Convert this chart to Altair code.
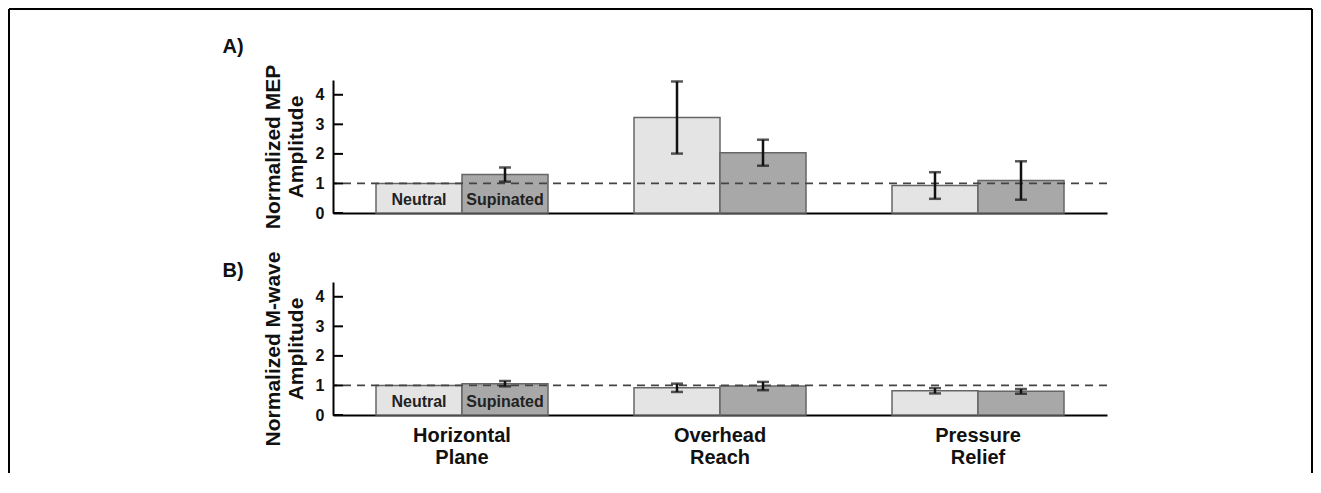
import altair as alt
import pandas as pd

categories = ["Horizontal Plane", "Overhead Reach", "Pressure Relief"]
conditions = ["Neutral", "Supinated"]

mep_neutral = [1.00, 3.23, 0.93]
mep_neutral_err = [0.00, 1.22, 0.45]
mep_supinated = [1.30, 2.04, 1.10]
mep_supinated_err = [0.24, 0.44, 0.65]

mwave_neutral = [1.00, 0.92, 0.82]
mwave_neutral_err = [0.00, 0.14, 0.09]
mwave_supinated = [1.06, 0.98, 0.80]
mwave_supinated_err = [0.09, 0.14, 0.08]

y_ticks = [0, 1, 2, 3, 4]
reference_level = [1.0]

FONT = "Liberation Sans"
W, H = 774, 133


def table(neutral, nerr, sup, serr):
    rows = []
    for i, c in enumerate(categories):
        rows.append({"category": c, "condition": "Neutral", "mean": neutral[i], "err": nerr[i]})
        rows.append({"category": c, "condition": "Supinated", "mean": sup[i], "err": serr[i]})
    return pd.DataFrame(rows)


def panel(df, ytitle, letter, letter_y, bottom, frame):
    xscale = alt.Scale(domain=categories, paddingInner=1 / 3, paddingOuter=1 / 6)
    xaxis = alt.Axis(
        labels=bottom, ticks=False, domain=True, domainColor="black", domainWidth=2,
        title=None, labelFont=FONT, labelFontSize=20, labelFontWeight="bold",
        labelColor="#111", labelPadding=10, labelLineHeight=22,
        labelExpr="split(datum.label, ' ')", labelAngle=0,
    )
    yscale = alt.Scale(domain=[0, 4.5], nice=False, zero=True)
    yaxis = alt.Axis(
        values=y_ticks, ticks=False, grid=False, domainColor="black", domainWidth=2,
        labelFont=FONT, labelFontSize=16, labelFontWeight="bold", labelColor="#111",
        labelPadding=9, title=ytitle, titleFont=FONT, titleFontSize=21,
        titleFontWeight="bold", titleColor="#111", titleLineHeight=23, titlePadding=9,
    )
    xo = alt.XOffset("condition:N", scale=alt.Scale(domain=conditions, paddingInner=0, paddingOuter=0))
    X = alt.X("category:N", scale=xscale, axis=xaxis, sort=categories)

    def Y(field):
        return alt.Y(field, scale=yscale, axis=yaxis)

    base = alt.Chart(df)
    bars = base.mark_bar(stroke="#666", strokeWidth=1.5).encode(
        x=X, xOffset=xo, y=Y("mean:Q"),
        color=alt.Color("condition:N", scale=alt.Scale(domain=conditions, range=["#e4e4e4", "#a8a8a8"]), legend=None),
    )
    dashed = alt.Chart(pd.DataFrame({"ref": reference_level})).mark_rule(
        strokeDash=[8, 6], color="#444", strokeWidth=1.8
    ).encode(y=Y("ref:Q"))

    eb = base.transform_filter("datum.err > 0").transform_calculate(
        lo="datum.mean - datum.err", hi="datum.mean + datum.err"
    )
    stems = eb.mark_rule(color="#111", strokeWidth=2.5).encode(
        x=X, xOffset=xo, y=Y("lo:Q"), y2="hi:Q"
    )
    cap_hi = eb.mark_tick(color="#111", size=12, thickness=2.5).encode(
        x=X, xOffset=xo, y=Y("hi:Q")
    )
    cap_lo = eb.mark_tick(color="#111", size=12, thickness=2.5).encode(
        x=X, xOffset=xo, y=Y("lo:Q")
    )
    labels = base.transform_filter(alt.datum.category == categories[0]).transform_calculate(
        zero="0"
    ).mark_text(
        font=FONT, fontSize=16, fontWeight="bold", color="#222", baseline="middle", dy=-13
    ).encode(x=X, xOffset=xo, y=Y("zero:Q"), text="condition:N")
    ticks = alt.Chart(pd.DataFrame({"t": y_ticks})).mark_rule(color="black", strokeWidth=2).encode(
        y=Y("t:Q"), x=alt.value(0), x2=alt.value(10)
    )
    letter_mark = alt.Chart(pd.DataFrame({"l": [letter]})).mark_text(
        font=FONT, fontSize=20, fontWeight="bold", color="#111", align="center", baseline="middle"
    ).encode(x=alt.value(-100), y=alt.value(letter_y), text="l:N")

    layers = [bars, dashed, stems, cap_hi, cap_lo, labels, ticks, letter_mark]
    if frame:
        one = alt.Chart(pd.DataFrame({"k": [0]}))
        top = one.mark_rule(color="black", strokeWidth=2).encode(
            x=alt.value(-324), x2=alt.value(979), y=alt.value(-71))
        left = one.mark_rule(color="black", strokeWidth=2).encode(
            x=alt.value(-324), y=alt.value(-71), y2=alt.value(393))
        right = one.mark_rule(color="black", strokeWidth=2).encode(
            x=alt.value(979), y=alt.value(-71), y2=alt.value(393))
        layers += [top, left, right]
    return alt.layer(*layers).properties(width=W, height=H)


a = panel(table(mep_neutral, mep_neutral_err, mep_supinated, mep_supinated_err),
          ["Normalized MEP", "Amplitude"], "A)", -33, False, True)
b = panel(table(mwave_neutral, mwave_neutral_err, mwave_supinated, mwave_supinated_err),
          ["Normalized M-wave", "Amplitude"], "B)", -11, True, False)

chart = alt.vconcat(a, b, spacing=69, bounds="flush").properties(
    padding=0, background="white"
).configure_view(stroke=None)

chart.save("out.html", embed_options={"renderer": "svg", "actions": False})
